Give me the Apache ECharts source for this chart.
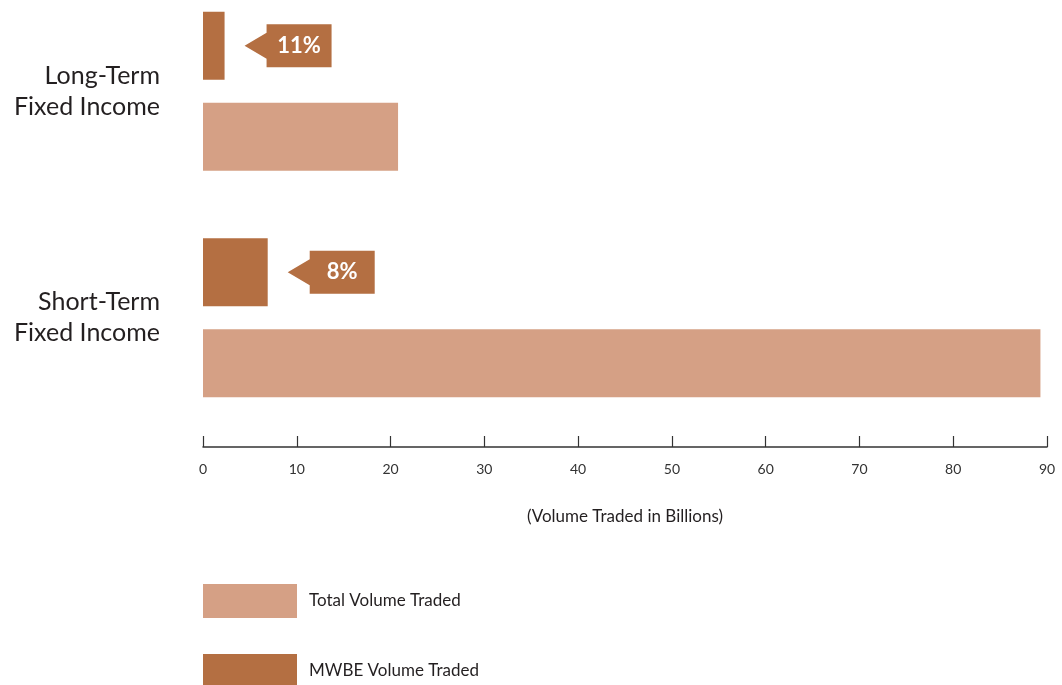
<!DOCTYPE html>
<html>
<head>
<meta charset="utf-8">
<script src="https://cdn.jsdelivr.net/npm/echarts@6/dist/echarts.min.js"></script>
<style>
html,body{margin:0;padding:0;background:#fff;}
#chart{width:1062px;height:685px;}
</style>
</head>
<body>
<div id="chart"></div>
<script>
const categories = ['Long-Term\nFixed Income', 'Short-Term\nFixed Income'];
const totalVolume = [20.8, 89.3];
const mwbeVolume = [2.3, 6.9];
const mwbeShare = ['11%', '8%'];
const xTicks = [0, 10, 20, 30, 40, 50, 60, 70, 80, 90];
const legendNames = ['Total Volume Traded', 'MWBE Volume Traded'];

const FONT = 'Lato';
const DARK = '#231f20';
const C_TOTAL = '#d5a085';
const C_MWBE = '#b46f42';
const BAR_W = 68, BAR_GAP = 23;

const calloutData = mwbeVolume.map((v, i) => [v, i, mwbeShare[i]]);

const legendBase = {
  orient: 'vertical', left: 203, padding: 0,
  itemWidth: 94, itemHeight: 34, icon: 'rect',
  textStyle: { fontSize: 17, color: DARK, fontFamily: FONT, padding: [0, 0, 0, 7] }
};

const chart = echarts.init(document.getElementById('chart'));
chart.setOption({
  animation: false,
  textStyle: { fontFamily: FONT },
  grid: { left: 203, right: 15, top: -22, height: 453, containLabel: false, outerBoundsMode: 'none' },
  xAxis: {
    type: 'value', min: xTicks[0], max: xTicks[xTicks.length - 1], interval: 10,
    offset: 16,
    axisLine: { show: true, lineStyle: { color: '#333', width: 1.5 } },
    axisTick: { show: true, inside: true, length: 11, lineStyle: { color: '#333', width: 1.2 } },
    splitLine: { show: false },
    axisLabel: { fontSize: 14, color: '#333', margin: 15, fontFamily: FONT },
    name: '(Volume Traded in Billions)', nameLocation: 'middle', nameGap: 61,
    nameTextStyle: { fontSize: 17, color: DARK, fontFamily: FONT }
  },
  yAxis: {
    type: 'category', inverse: true, data: categories,
    axisLine: { show: false }, axisTick: { show: false },
    axisLabel: { fontSize: 25, lineHeight: 31, color: DARK, margin: 43, align: 'right', fontFamily: FONT }
  },
  legend: [
    Object.assign({}, legendBase, { data: [legendNames[0]], top: 584 }),
    Object.assign({}, legendBase, { data: [legendNames[1]], top: 654 })
  ],
  series: [
    { name: legendNames[1], type: 'bar', data: mwbeVolume, barWidth: BAR_W,
      barGap: (BAR_GAP / BAR_W * 100) + '%', itemStyle: { color: C_MWBE }, silent: true },
    { name: legendNames[0], type: 'bar', data: totalVolume, barWidth: BAR_W,
      itemStyle: { color: C_TOTAL }, silent: true },
    { type: 'custom', silent: true, data: calloutData, encode: { x: 0, y: 1 },
      renderItem: function (params, api) {
        const p = api.coord([api.value(0), api.value(1)]);
        const cy = p[1] - (BAR_W + BAR_GAP) / 2;
        const tx = p[0] + 20;
        const bx = tx + 22, bw = 65, bh = 43, ah = 13;
        return {
          type: 'group',
          children: [
            { type: 'polygon', shape: { points: [
                [tx, cy], [bx, cy - ah], [bx, cy - bh / 2], [bx + bw, cy - bh / 2],
                [bx + bw, cy + bh / 2], [bx, cy + bh / 2], [bx, cy + ah]] },
              style: { fill: C_MWBE } },
            { type: 'text', x: bx + bw / 2, y: cy,
              style: { text: calloutData[params.dataIndex][2], fill: '#fff', fontSize: 22,
                fontWeight: 'bold', fontFamily: FONT, align: 'center', verticalAlign: 'middle' } }
          ]
        };
      }
    }
  ]
});
</script>
</body>
</html>
